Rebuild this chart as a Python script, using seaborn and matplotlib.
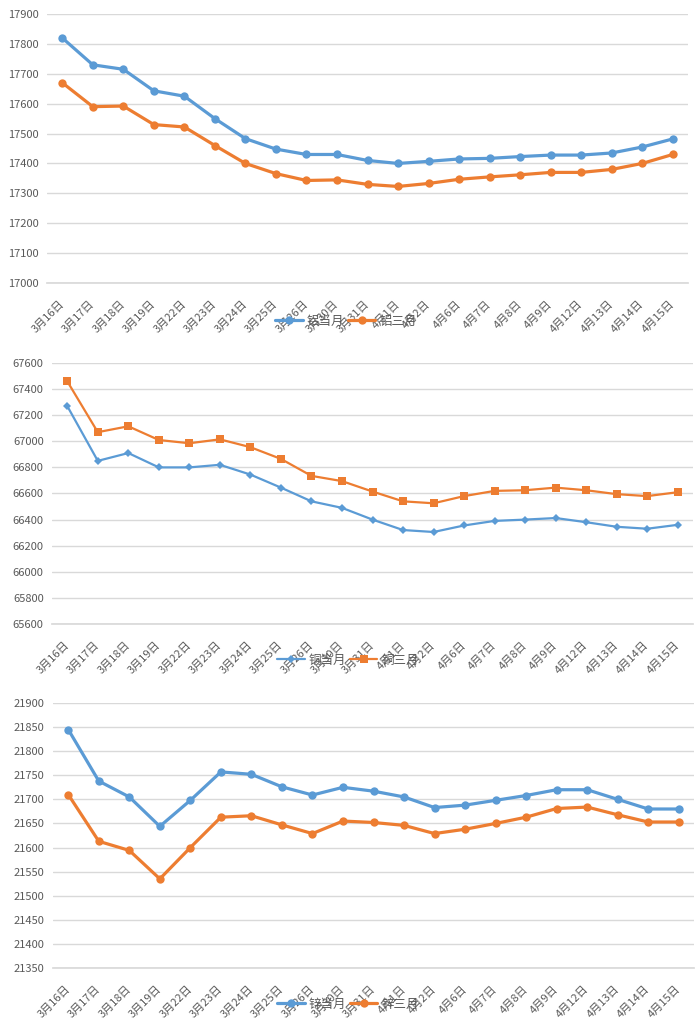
'''
Three stacked Excel-style line charts: 当月 vs 三月 prices for 铝, 铜, 锌
'''

import numpy as np
import pandas as pd
import seaborn as sns
import matplotlib.pyplot as plt

dates = ['3月16日', '3月17日', '3月18日', '3月19日', '3月22日', '3月23日', '3月24日',
         '3月25日', '3月26日', '3月30日', '3月31日', '4月1日', '4月2日', '4月6日',
         '4月7日', '4月8日', '4月9日', '4月12日', '4月13日', '4月14日', '4月15日']

al_cur = [17820, 17730, 17715, 17643, 17625, 17550, 17483, 17448, 17430, 17430, 17410,
          17400, 17407, 17415, 17417, 17423, 17428, 17428, 17435, 17455, 17482]
al_3m = [17670, 17590, 17592, 17530, 17522, 17460, 17400, 17366, 17343, 17345, 17330,
         17323, 17333, 17347, 17355, 17362, 17370, 17370, 17380, 17400, 17430]

cu_cur = [67270, 66850, 66910, 66800, 66800, 66820, 66745, 66645, 66540, 66490, 66400,
          66320, 66305, 66355, 66390, 66400, 66412, 66380, 66345, 66330, 66360]
cu_3m = [67460, 67070, 67115, 67010, 66985, 67015, 66955, 66865, 66735, 66695, 66615,
         66540, 66525, 66580, 66620, 66625, 66645, 66625, 66595, 66580, 66610]

zn_cur = [21845, 21738, 21705, 21644, 21698, 21757, 21752, 21726, 21709, 21725, 21717,
          21705, 21683, 21688, 21698, 21708, 21720, 21720, 21700, 21680, 21680]
zn_3m = [21710, 21613, 21594, 21535, 21600, 21663, 21666, 21647, 21629, 21655, 21652,
         21646, 21629, 21638, 21650, 21663, 21681, 21684, 21668, 21653, 21653]

BLUE = '#5B9BD5'
ORANGE = '#ED7D31'
GRID = '#D9D9D9'
TXT = '#595959'
W, H = 698, 1018


def px_axes(fig, left, top, right, bottom):
    return fig.add_axes([left / W, 1 - bottom / H, (right - left) / W, (bottom - top) / H])


def draw_panel(fig, box, cur, three, names, marks, sizes, lw, yticks, legend_xy):
    ax = px_axes(fig, *box)
    x = np.arange(len(dates))
    df = pd.DataFrame({'x': x, 'cur': cur, 'three': three})

    sns.lineplot(data=df, x='x', y='cur', ax=ax, color=BLUE, marker=marks[0],
                 markersize=sizes[0], markeredgewidth=0, linewidth=lw, label=names[0])
    sns.lineplot(data=df, x='x', y='three', ax=ax, color=ORANGE, marker=marks[1],
                 markersize=sizes[1], markeredgewidth=0, linewidth=lw, label=names[1])

    ax.set_xlim(-0.5, len(dates) - 0.5)
    ax.set_ylim(yticks[0], yticks[-1])
    ax.set_yticks(yticks)
    ax.set_yticklabels([str(v) for v in yticks])
    ax.yaxis.grid(True, color=GRID, linewidth=1)
    ax.set_axisbelow(True)

    ax.set_xticks(x)
    ax.set_xticklabels(dates, rotation=45, ha='right', va='center', rotation_mode='anchor')
    ax.set_xticks(np.arange(-0.5, len(dates), 1), minor=True)
    ax.tick_params(axis='x', which='major', length=0, pad=14, labelsize=8, labelcolor=TXT)
    ax.tick_params(axis='x', which='minor', length=5, width=1, color=GRID)
    ax.tick_params(axis='y', length=0, pad=6, labelsize=8, labelcolor=TXT)

    for side in ['top', 'right', 'left']:
        ax.spines[side].set_visible(False)
    ax.spines['bottom'].set_color(GRID)
    ax.set_xlabel('')
    ax.set_ylabel('')

    ax.legend(loc='center', bbox_to_anchor=(legend_xy[0] / W, 1 - legend_xy[1] / H),
              bbox_transform=fig.transFigure, ncol=2, frameon=False, fontsize=9,
              handlelength=2.2, handletextpad=0.3, columnspacing=0.3, labelcolor=TXT)
    return ax


sns.set_theme(style='white')
plt.rcParams['font.family'] = ['Noto Sans CJK SC', 'DejaVu Sans']

fig = plt.figure(figsize=(W / 100, H / 100), dpi=100)

draw_panel(fig, (47, 14, 688, 283), al_cur, al_3m, ['铝当月', '铝三月'], ['o', 'o'],
           [6, 6], 2.3, list(range(17000, 17901, 100)), (346, 321))
draw_panel(fig, (52, 363, 693, 624), cu_cur, cu_3m, ['铜当月', '铜三月'], ['D', 's'],
           [4.5, 6], 1.6, list(range(65600, 67601, 200)), (348, 660))
draw_panel(fig, (53, 703, 694, 968), zn_cur, zn_3m, ['锌当月', '锌三月'], ['o', 'o'],
           [6, 6], 2.3, list(range(21350, 21901, 50)), (348, 1004))

fig.savefig('out.png', dpi=100)
plt.close(fig)
